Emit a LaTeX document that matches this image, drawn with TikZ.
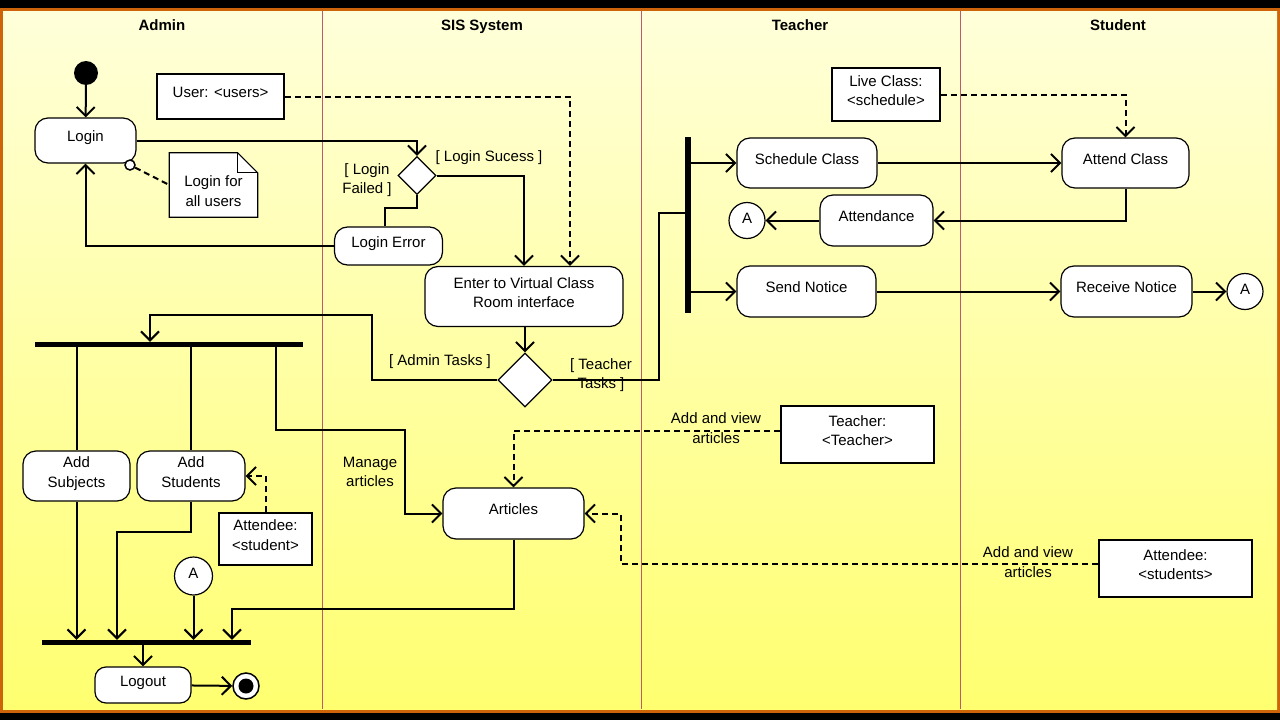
\documentclass[tikz,border=0pt]{standalone}
\usepackage{fontspec}
\setmainfont{Liberation Sans}
\usetikzlibrary{arrows.meta,shapes.geometric}

\definecolor{lanecol}{RGB}{190,90,110}
\definecolor{framecol}{RGB}{205,100,10}
\definecolor{bgtop}{RGB}{255,255,218}
\definecolor{bgbot}{RGB}{255,255,112}

\tikzset{
  every node/.style={font=\fontsize{15}{19.5}\selectfont},
  act/.style={draw, fill=white, rounded corners=13pt, line width=1.2pt, align=center, inner sep=0pt, text depth=8pt},
  obj/.style={draw, fill=white, line width=1.5pt, align=center, inner sep=0pt, text depth=8pt},
  decide/.style={diamond, draw, fill=white, line width=1.2pt, inner sep=0pt},
  bar/.style={fill=black, inner sep=0pt},
  conn/.style={circle, draw, fill=white, line width=1.2pt, inner sep=0pt, minimum size=36pt, text depth=5pt},
  plain/.style={line width=2pt},
  flow/.style={plain, -{Straight Barb[length=9pt,width=18pt]}},
  dep/.style={flow, dash pattern=on 6pt off 4pt},
  lane/.style={font=\fontsize{15}{18}\selectfont\bfseries, anchor=base},
  guard/.style={align=center},
}

\begin{document}
\begin{tikzpicture}[x=1pt,y=-1pt]

  \fill[black] (0,0) rectangle (1280,720);
  \fill[framecol] (0,8) rectangle (1280,713);
  \shade[top color=bgtop, bottom color=bgbot] (3,11) rectangle (1277,709);
  \useasboundingbox (0,0) rectangle (1280,720);

  \foreach \lx in {322,641,960}
    \draw[lanecol, line width=1pt] (\lx,11) -- (\lx,709);

  \node[lane] (hadmin) at (162,30) {Admin};
  \node[lane] (hsis) at (482,30) {SIS System};
  \node[lane] (hteacher) at (800,30) {Teacher};
  \node[lane] (hstudent) at (1118,30) {Student};

  % login part
  \node[circle, fill=black, minimum size=24pt, inner sep=0pt] (start) at (86,73) {};
  \node[act, minimum width=101pt, minimum height=45pt] (login) at (85.5,140.5) {Login};
  \node[obj, minimum width=127pt, minimum height=45pt] (users) at (220.5,96.5) {User: <users>};
  \node[decide, minimum width=38pt, minimum height=38pt] (check) at (417,175.5) {};
  \node[act, minimum width=108pt, minimum height=38pt] (loginerr) at (388.5,246) {Login Error};
  \node[act, minimum width=198pt, minimum height=60pt] (enter) at (524,296.5) {Enter to Virtual Class\\Room interface};
  \node[decide, minimum width=54pt, minimum height=54pt] (role) at (525,380) {};

  \node[minimum width=88pt, minimum height=64pt, inner sep=0pt] (note) at (213.5,185) {};
  \filldraw[fill=white, line width=1.2pt] (note.north west) -- ([xshift=-20pt]note.north east)
    -- ([yshift=-20pt]note.north east) -- (note.south east) -- (note.south west) -- cycle;
  \draw[line width=1.2pt] ([xshift=-20pt]note.north east) |- ([yshift=-20pt]note.north east);
  \node[align=center] (notetext) at (213.5,191) {Login for\\all users};
  \node[circle, draw, fill=white, line width=1.5pt, minimum size=10pt, inner sep=0pt] (pin) at (130,165) {};
  \draw[plain, dash pattern=on 6pt off 4pt] (pin) -- (note.west);

  % teacher and student
  \node[bar, minimum width=6pt, minimum height=176pt] (tfork) at (688,225) {};
  \node[act, minimum width=140pt, minimum height=50pt] (sched) at (807,163) {Schedule Class};
  \node[act, minimum width=113pt, minimum height=51pt] (attn) at (876.5,220.5) {Attendance};
  \node[conn] (a1) at (747,220.5) {A};
  \node[act, minimum width=139pt, minimum height=51pt] (notice) at (806.5,291.5) {Send Notice};
  \node[obj, minimum width=108pt, minimum height=53pt] (live) at (886,94.5) {Live Class:\\<schedule>};
  \node[obj, minimum width=153pt, minimum height=57pt] (tobj) at (857.5,434.5) {Teacher:\\<Teacher>};
  \node[act, minimum width=127pt, minimum height=50pt] (attend) at (1125.5,163) {Attend Class};
  \node[act, minimum width=131pt, minimum height=51pt] (recv) at (1126.5,291.5) {Receive Notice};
  \node[conn] (a2) at (1245,291.5) {A};
  \node[obj, minimum width=153pt, minimum height=57pt] (sobj) at (1175.5,568.5) {Attendee:\\<students>};

  % admin tasks
  \node[bar, minimum width=268pt, minimum height=5pt] (afork) at (169,344.5) {};
  \node[act, minimum width=107pt, minimum height=50pt] (addsub) at (76.5,476) {Add\\Subjects};
  \node[act, minimum width=108pt, minimum height=50pt] (addstu) at (191,476) {Add\\Students};
  \node[obj, minimum width=93pt, minimum height=52pt] (aobj) at (265.5,539) {Attendee:\\<student>};
  \node[conn, minimum size=38pt] (a3) at (193.5,576) {A};
  \node[act, minimum width=141pt, minimum height=51pt] (articles) at (513.5,513.5) {Articles};
  \node[bar, minimum width=209pt, minimum height=5pt] (ajoin) at (146.5,642.5) {};
  \node[act, minimum width=96pt, minimum height=36pt, rounded corners=11pt] (logout) at (143,685) {Logout};
  \node[circle, draw, fill=white, line width=1.5pt, minimum size=26pt, inner sep=0pt] (stop) at (246,686) {};
  \fill (stop) circle (7.5pt);

  \node[guard] (gok) at (489,158) {[ Login Sucess ]};
  \node[guard] (gfail) at (367,180) {[ Login\\Failed ]};
  \node[guard] (gadmin) at (440,362) {[ Admin Tasks ]};
  \node[guard] (gteach) at (601,375) {[ Teacher\\Tasks ]};
  \node[guard] (lmanage) at (370,472) {Manage\\articles};
  \node[guard] (lteach) at (716,428) {Add and view\\articles};
  \node[guard] (lstud) at (1028,562) {Add and view\\articles};

  % flows
  \draw[flow] (start) -- (login);
  \draw[flow] (login.east) -| (check.north);
  \draw[dep] (users.east) -| ([xshift=46pt]enter.north);
  \draw[flow] (check.east) -| (enter.north);
  \draw[plain] (check.south) -- ++(0,13) -| ([xshift=-4pt]loginerr.north);
  \draw[flow] (loginerr.west) -| (login.south);
  \draw[flow] (enter.south -| role) -- (role.north);
  \draw[flow] (role.west) -| (372,315) -| ([xshift=-19pt]afork.north);
  \draw[plain] (role.east) -| (659,213) -- ([yshift=12pt]tfork.west);

  \draw[flow] (sched.west -| tfork.east) -- (sched.west);
  \draw[flow] (notice.west -| tfork.east) -- (notice.west);
  \draw[flow] (sched) -- (attend);
  \draw[dep] (live.east) -| (attend.north);
  \draw[flow] (attend.south) |- (attn.east);
  \draw[flow] (attn) -- (a1);
  \draw[flow] (notice) -- (recv);
  \draw[flow] (recv) -- (a2);

  \draw[plain] (addsub.north |- afork.south) -- (addsub.north);
  \draw[plain] (addstu.north |- afork.south) -- (addstu.north);
  \draw[flow] ([xshift=107pt]afork.south) |- (405,430) |- (articles.west);
  \draw[dep] (aobj.north) |- (addstu.east);
  \draw[dep] ([yshift=4pt]tobj.west) -| (articles.north);
  \draw[dep] ([yshift=5pt]sobj.west) -| ([xshift=36pt]articles.east) -- (articles.east);
  \draw[flow] (addsub.south) -- (addsub.south |- ajoin.north);
  \draw[flow] (addstu.south) -- ++(0,30) -| ([xshift=-29.5pt]ajoin.north);
  \draw[flow] (a3) -- (a3 |- ajoin.north);
  \draw[flow] (articles.south) -- ++(0,69) -| ([xshift=85.5pt]ajoin.north);
  \draw[flow] (logout.north |- ajoin.south) -- (logout.north);
  \draw[flow] (logout) -- (stop);

\end{tikzpicture}
\end{document}
